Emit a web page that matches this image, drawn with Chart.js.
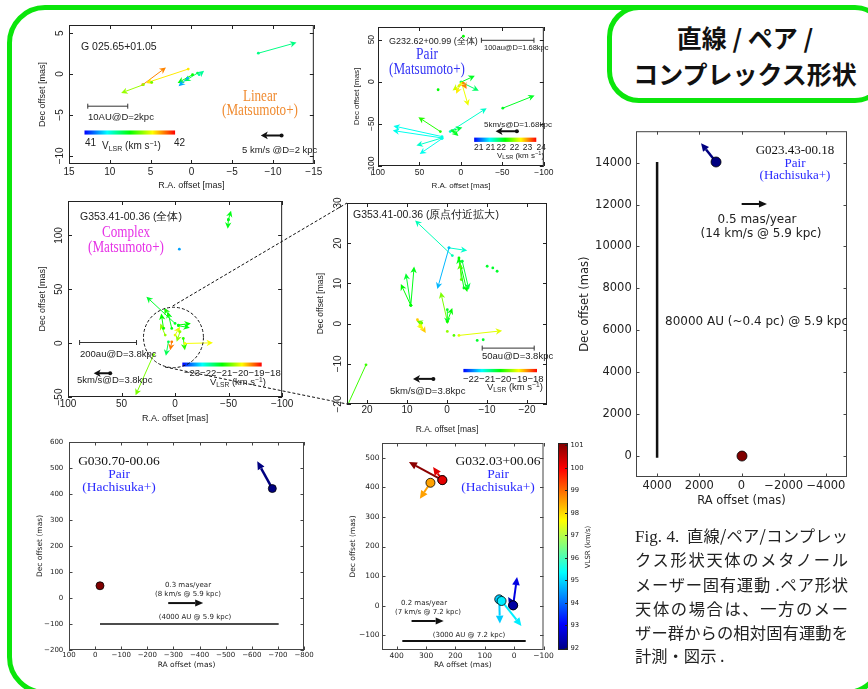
<!DOCTYPE html>
<html>
<head>
<meta charset="utf-8">
<script src="https://cdn.jsdelivr.net/npm/chart.js@4.4.1/dist/chart.umd.min.js"></script>
<style>
  body { margin: 0; background: #fff; overflow: hidden; }
  #page { position: relative; width: 868px; height: 689px; overflow: hidden; background: #fff; }
  canvas { position: absolute; }
  .frame { position: absolute; box-sizing: border-box; left: 7px; top: 5px; width: 877px; height: 690px;
           border: 5.5px solid #0be60b; border-radius: 38px; }
  .tbox { position: absolute; box-sizing: border-box; left: 607px; top: 5px; width: 280px; height: 98px;
          border: 5.5px solid #0be60b; border-radius: 32px; background: #fff; }
  .tline { position: absolute; left: 0; width: 868px; text-align: center; font-family: 'Noto Sans CJK JP', sans-serif;
           font-weight: 700; font-size: 25px; line-height: 1; color: #111; }
  .t { position: absolute; white-space: nowrap; line-height: 1; color: #222; }
  .c { transform: translate(-50%, -50%); }
  .cn { transform: translate(-50%, -50%) scaleX(0.82); }
  .l { transform: translateY(-50%); }
  .gp { font-family: 'Liberation Sans Narrow', 'Liberation Sans', sans-serif; }
  .mp { font-family: 'DejaVu Sans', sans-serif; }
  .sf { font-family: 'Liberation Serif', 'Times New Roman', serif; }
  .t sub { font-size: 70%; vertical-align: -0.25em; }
  .t sup { font-size: 70%; vertical-align: 0.45em; }
  .cap { position: absolute; left: 635px; width: 213px; height: 24px; line-height: 24px; font-size: 16.3px;
         font-family: 'Noto Sans CJK JP', sans-serif; color: #222; text-align: justify; text-align-last: justify; white-space: nowrap; }
</style>
</head>
<body>
<div id="page">
  <div class="frame"></div>
  <div class="tbox"></div>
  <div class="tline" style="left:377px;top:25px;width:736px;">直線 / ペア /</div>
  <div class="tline" style="left:377px;top:61px;width:736px;">コンプレックス形状</div>

  <canvas id="g025"></canvas>
  <canvas id="g232"></canvas>
  <canvas id="g353"></canvas>
  <canvas id="g353z"></canvas>
  <canvas id="g030"></canvas>
  <canvas id="g032"></canvas>
  <canvas id="g032cb"></canvas>
  <canvas id="g023"></canvas>

  <svg style="position:absolute;left:0;top:0" width="868" height="689">
    <line x1="172.7" y1="306" x2="347" y2="203" stroke="#111" stroke-width="1" stroke-dasharray="3,2"/>
    <line x1="165" y1="367" x2="347" y2="404" stroke="#111" stroke-width="1" stroke-dasharray="3,2"/>
  </svg>

  <!-- G025.65+01.05 -->
  <div class="t l gp" style="left:81px;top:46px;font-size:10.5px">G 025.65+01.05</div>
  <div class="t cn sf" style="left:260px;top:96px;font-size:16px;color:#f08c32">Linear</div>
  <div class="t cn sf" style="left:260px;top:110px;font-size:16px;color:#f08c32">(Matsumoto+)</div>
  <div class="t l gp" style="left:88px;top:117px;font-size:9.5px">10AU@D=2kpc</div>
  <div class="t l gp" style="left:85px;top:143px;font-size:10px">41</div>
  <div class="t l gp" style="left:102px;top:146px;font-size:10px">V<sub>LSR</sub> (km s<sup>−1</sup>)</div>
  <div class="t l gp" style="left:174px;top:143px;font-size:10px">42</div>
  <div class="t l gp" style="left:242px;top:150px;font-size:9.5px">5 km/s @D=2 kpc</div>

  <!-- G232.62+00.99 -->
  <div class="t l gp" style="left:389px;top:41px;font-size:9px">G232.62+00.99 (全体)</div>
  <div class="t cn sf" style="left:427px;top:54px;font-size:16.5px;color:#3535f5">Pair</div>
  <div class="t cn sf" style="left:427px;top:69px;font-size:16px;color:#3535f5">(Matsumoto+)</div>
  <div class="t l gp" style="left:484px;top:48px;font-size:7.5px">100au@D=1.68kpc</div>
  <div class="t l gp" style="left:484px;top:125px;font-size:8px">5km/s@D=1.68kpc</div>
  <div id="g232cbl"></div>
  <div class="t l gp" style="left:497px;top:156px;font-size:8px">V<sub>LSR</sub> (km s<sup>−1</sup>)</div>

  <!-- G353.41-00.36 -->
  <div class="t l gp" style="left:80px;top:216px;font-size:10.5px">G353.41-00.36 (全体)</div>
  <div class="t cn sf" style="left:126px;top:232px;font-size:16px;color:#e632e6">Complex</div>
  <div class="t cn sf" style="left:126px;top:247px;font-size:16px;color:#e632e6">(Matsumoto+)</div>
  <div class="t l gp" style="left:80px;top:354px;font-size:9.5px">200au@D=3.8kpc</div>
  <div class="t l gp" style="left:77px;top:380px;font-size:9.5px">5km/s@D=3.8kpc</div>
  <div class="t l gp" style="left:184px;top:373px;font-size:9.5px">−23−22−21−20−19−18</div>
  <div class="t l gp" style="left:210px;top:383px;font-size:9.5px">V<sub>LSR</sub> (km s<sup>−1</sup>)</div>

  <!-- G353.41-00.36 zoom -->
  <div class="t l gp" style="left:353px;top:214px;font-size:10.5px">G353.41-00.36 (原点付近拡大)</div>
  <div class="t l gp" style="left:482px;top:356px;font-size:9.5px">50au@D=3.8kpc</div>
  <div class="t l gp" style="left:390px;top:391px;font-size:9.5px">5km/s@D=3.8kpc</div>
  <div class="t l gp" style="left:463px;top:379px;font-size:9.5px">−22−21−20−19−18</div>
  <div class="t l gp" style="left:487px;top:388px;font-size:9.5px">V<sub>LSR</sub> (km s<sup>−1</sup>)</div>

  <!-- G030.70-00.06 -->
  <div class="t c sf" style="left:119px;top:461px;font-size:13.5px;color:#111">G030.70-00.06</div>
  <div class="t c sf" style="left:119px;top:474px;font-size:13.5px;color:#2a2aff">Pair</div>
  <div class="t c sf" style="left:119px;top:487px;font-size:13.5px;color:#2a2aff">(Hachisuka+)</div>
  <div class="t c mp" style="left:188px;top:585px;font-size:7px">0.3 mas/year</div>
  <div class="t c mp" style="left:188px;top:594px;font-size:7px">(8 km/s @ 5.9 kpc)</div>
  <div class="t c mp" style="left:195px;top:617px;font-size:7px">(4000 AU @ 5.9 kpc)</div>

  <!-- G032.03+00.06 -->
  <div class="t c sf" style="left:498px;top:461px;font-size:13.5px;color:#111">G032.03+00.06</div>
  <div class="t c sf" style="left:498px;top:474px;font-size:13.5px;color:#2a2aff">Pair</div>
  <div class="t c sf" style="left:498px;top:487px;font-size:13.5px;color:#2a2aff">(Hachisuka+)</div>
  <div class="t c mp" style="left:424px;top:603px;font-size:7px">0.2 mas/year</div>
  <div class="t c mp" style="left:428px;top:612px;font-size:7px">(7 km/s @ 7.2 kpc)</div>
  <div class="t c mp" style="left:469px;top:635px;font-size:7px">(3000 AU @ 7.2 kpc)</div>
  <div class="t mp" style="left:588px;top:547px;font-size:7px;transform:translate(-50%,-50%) rotate(-90deg)">VLSR (km/s)</div>

  <!-- G023.43-00.18 -->
  <div class="t c sf" style="left:795px;top:149px;font-size:13px;color:#111">G023.43-00.18</div>
  <div class="t c sf" style="left:795px;top:162px;font-size:13px;color:#2a2aff">Pair</div>
  <div class="t c sf" style="left:795px;top:174px;font-size:13px;color:#2a2aff">(Hachisuka+)</div>
  <div class="t c mp" style="left:757px;top:219px;font-size:12px">0.5 mas/year</div>
  <div class="t c mp" style="left:761px;top:233px;font-size:12px">(14 km/s @ 5.9 kpc)</div>
  <div style="position:absolute;left:636px;top:127px;width:211px;height:350px;overflow:hidden">
    <div class="t l mp" style="left:29px;top:194px;font-size:12px">80000 AU (~0.4 pc) @ 5.9 kpc</div>
  </div>

  <!-- caption -->
  <div class="cap" style="top:523px"><span style="font-family:'Liberation Serif',serif;font-size:17px">Fig. 4.</span>&nbsp; 直線/ペア/コンプレッ</div>
  <div class="cap" style="top:547px">クス形状天体のメタノール</div>
  <div class="cap" style="top:572px">メーザー固有運動 .ペア形状</div>
  <div class="cap" style="top:596px">天体の場合は、一方のメー</div>
  <div class="cap" style="top:620px">ザー群からの相対固有運動を</div>
  <div class="cap" style="top:643px;text-align-last:left">計測・図示 .</div>
</div>

<script>
// ---- data: each arrow is [RA, Dec, RA of tip, Dec of tip, VLSR]; dots are [RA, Dec, VLSR] ----

// G025.65+01.05 (linear)
const g025Arrows = [
    [-8.2, 2.55, -12.88, 3.85, 41.37],
    [5.96, -1.3, 3.12, 0.81, 41.87],
    [0.39, 0.61, 5.56, -1.09, 41.77],
    [5.88, -1.3, 8.61, -2.31, 41.65],
    [-0.14, -0.08, 1.69, -1.09, 41.5],
    [-0.75, 0.12, 0.88, -0.89, 41.42],
    [-0.95, -0.08, -1.56, 0.41, 41.35],
    [0.47, -0.49, 1.57, -1.5, 41.17]
];
const g025Dots = [[4.87, -1.01, 41.6]];
const g025Vlsr = [41, 42];
const g025XTicks = [15, 10, 5, 0, -5, -10, -15];
const g025YTicks = [5, 0, -5, -10];

// G232.62+00.99 (pair, whole field)
const g232Arrows = [
    [-0.2, -0.4, -16.8, 7.1, 22.4],
    [-0.2, -0.4, -21.6, -10.7, 22.2],
    [-1.0, -1.6, -8.9, -28.6, 23.2],
    [-3.0, -1.6, -6.9, -8.7, 23.6],
    [2.2, -4.8, 10.1, -10.3, 23.1],
    [1.0, -3.6, 5.7, -14.3, 23.3],
    [-50.5, -31.3, -88.9, -16.3, 22.4],
    [12.9, -59.1, -31.1, -31.3, 21.9],
    [10.9, -57.9, -1.8, -54.4, 22.3],
    [8.9, -59.1, 3.0, -64.3, 22.4],
    [22.8, -65.1, 81.4, -52.4, 21.8],
    [22.8, -66.7, 82.2, -57.9, 21.8],
    [24.8, -59.1, 51.3, -42.1, 22.6],
    [22.8, -66.7, 53.7, -75.8, 21.9],
    [22.8, -67.5, 49.7, -85.7, 21.8]
];
const g232Dots = [[-3.0, 54.0, 22.5], [27.5, -9.5, 22.5]];
const g232Vlsr = [21, 24];
const g232CbarLabels = ['21', '21', '22', '22', '23', '24'];
const g232XTicks = [100, 50, 0, -50, -100];
const g232YTicks = [50, 0, -50, -100];

// G353.41-00.36 (complex, whole field)
const g353Arrows = [
    [-49.8, 114.6, -52.3, 123.0, -20.6],
    [-49.8, 114.6, -49.2, 106.2, -20.6],
    [0.0, 18.3, 26.8, 43.2, -20.7],
    [6.2, 26.1, 10.2, 32.9, -20.4],
    [-3.1, 16.8, -14.8, 18.3, -20.5],
    [-3.1, 16.2, -13.8, 14.3, -20.6],
    [-9.2, -0.3, -35.4, 0.3, -19.3],
    [6.2, 1.2, 8.6, -11.8, -20.9],
    [3.1, 1.2, 4.6, -6.5, -18.6],
    [-7.7, 4.3, -9.2, -6.5, -20.3],
    [10.8, 13.7, 12.9, 27.6, -20.5],
    [9.2, 7.5, 13.8, 18.3, -19.8],
    [20.0, -10.6, 36.9, -48.4, -19.9],
    [0.0, 7.5, -4.6, 15.2, -19.4],
    [3.1, 13.7, 6.8, 29.2, -20.6],
    [-4.6, 10.6, -1.5, 1.2, -19.8]
];
const g353Dots = [[-4.0, 87.3, -22.2]];
const g353Vlsr = [-23, -18];
const g353XTicks = [100, 50, 0, -50, -100];
const g353YTicks = [100, 50, 0, -50];

// G353.41-00.36 (zoom on the origin)
const g353zArrows = [
    [-1.33, 16.92, 7.97, 25.65, -20.9],
    [-0.5, 18.84, -5.06, 18.17, -21.0],
    [-0.5, 18.84, 2.41, 8.61, -21.6],
    [9.05, 4.54, 10.29, 12.52, -20.2],
    [9.05, 4.54, 8.22, 14.18, -20.1],
    [9.05, 4.54, 11.54, 9.86, -20.0],
    [-4.23, 8.86, -2.82, 16.51, -20.1],
    [-2.99, 16.34, -5.06, 7.86, -20.0],
    [-3.82, 15.51, -5.48, 8.45, -20.3],
    [-3.57, 10.94, -3.24, 15.1, -19.6],
    [-0.08, 0.55, 1.58, 7.86, -19.4],
    [-0.08, 0.55, -1.33, 3.87, -20.0],
    [-0.08, 3.46, -0.08, -0.12, -20.2],
    [7.39, 0.96, 5.31, -2.36, -18.5],
    [6.31, 0.13, 7.64, 0.71, -19.5],
    [6.8, -0.45, 5.98, -1.53, -18.8],
    [-2.99, -2.94, -13.78, -1.78, -18.9],
    [20.25, -10.26, 25.2, -21.06, -19.7]
];
const g353zDots = [
    [-10.04, 14.26, -20.2], [-11.45, 13.85, -20.2], [-12.53, 13.02, -20.2],
    [-0.08, -1.94, -19.3], [-1.74, -2.94, -19.6], [-7.55, -4.19, -20.2], [-9.05, -4.02, -20.2]
];
const g353zVlsr = [-22.5, -17.5];
const g353zXTicks = [20, 10, 0, -10, -20];
const g353zYTicks = [30, 20, 10, 0, -10, -20];

// G030.70-00.06 (pair) - colour index only, no colour bar in the panel
const g030Arrows = [[-678.7, 421, -621, 525.8, 0]];
const g030Dots = [[-18.7, 47, 1]];
const g030Vlsr = [0, 1];
const g030XTicks = [100, 0, -100, -200, -300, -400, -500, -600, -700, -800];
const g030YTicks = [600, 500, 400, 300, 200, 100, 0, -100, -200];

// G032.03+00.06 (pair)
const g032Arrows = [
    [244.5, 424.5, 358.3, 485.4, 101.0],
    [244.5, 424.5, 276, 468.5, 100.2],
    [285, 415.5, 321, 361.5, 98.5],
    [50.7, 21.4, 48.5, -60.8, 94.9],
    [42.8, 15.8, -24.8, -68.7, 95.2],
    [3.4, 1.1, -10, 96.8, 92.8],
    [3.4, 1.1, 20.3, 29.3, 92.2]
];
const g032Dots = [];
const g032Vlsr = [91.9, 101.1];
const g032XTicks = [400, 300, 200, 100, 0, -100];
const g032YTicks = [500, 400, 300, 200, 100, 0, -100];
const g032CbTicks = [92, 93, 94, 95, 96, 97, 98, 99, 100, 101];

// G023.43-00.18 (pair)
const g023Arrows = [[1207, 14031, 1917, 14930, 0]];
const g023Dots = [[-23, 0, 1]];
const g023Vlsr = [0, 1];
const g023XTicks = [4000, 2000, 0, -2000, -4000];
const g023YTicks = [0, 2000, 4000, 6000, 8000, 10000, 12000, 14000];

// ---- look ----
const GP = "'Liberation Sans Narrow','Liberation Sans',sans-serif";
const MP = "'DejaVu Sans',sans-serif";

function fmt(v) { return v < 0 ? '\u2212' + Math.abs(v) : String(v); }
function clamp(t) { return Math.min(1, Math.max(0, t)); }
function rainbow(t) { return 'hsl(' + Math.round(240 * (1 - clamp(t))) + ',100%,50%)'; }
function jet(t) {
    t = clamp(t);
    const c = k => Math.round(255 * clamp(1.5 - Math.abs(4 * t - k)));
    return 'rgb(' + c(3) + ',' + c(2) + ',' + c(1) + ')';
}

// panel layout: box = canvas [left, top, width, height]; plot = [L, T, R, B] of the axes box (page px)
const specs = {
    g025: { box: [25, 15, 300, 180], plot: [69, 25, 316, 164], x: [-15, 15], y: [-11, 6], kind: 'gp',
            xt: g025XTicks, yt: g025YTicks, font: 10, tFont: 9, xTickPad: 2.7, xtPad: 3.6, ytPad: 12.6, rotY: 9,
            xTitle: 'R.A. offset [mas]', yTitle: 'Dec offset [mas]',
            arrows: g025Arrows, dots: g025Dots, vlsr: g025Vlsr,
            cbar: [13.1, 2.0, -6.9, -7.4], bar: [12.7, 7.8, -3.93], ref: [-11.05, -7.5, -8.5, -7.5] },
    g232: { box: [345, 15, 210, 180], plot: [378, 27, 547, 166], x: [-100, 100], y: [-100, 65], kind: 'gp',
            xt: g232XTicks, yt: g232YTicks, font: 8.5, tFont: 8, xTickPad: 1.6, xtPad: 4.9, ytPad: 6.9, rotY: 6.6,
            xTitle: 'R.A. offset [mas]', yTitle: 'Dec offset [mas]',
            arrows: g232Arrows, dots: g232Dots, vlsr: g232Vlsr,
            cbar: [-16, -90.9, -66.3, -71.4], bar: [-24.7, -88.1, 49.2], ref: [-67.5, -58.7, -41.8, -58.7] },
    g353: { box: [25, 195, 270, 235], plot: [68, 201, 285, 397], x: [-100, 100], y: [-50, 132], kind: 'gp',
            xt: g353XTicks, yt: g353YTicks, font: 10, tFont: 9, xTickPad: 1.6, xtPad: 5.6, ytPad: 12.3, rotY: 8.3,
            xTitle: 'R.A. offset [mas]', yTitle: 'Dec offset [mas]',
            arrows: g353Arrows, dots: g353Dots, vlsr: g353Vlsr,
            cbar: [-6.8, -80.9, -18.0, -21.7], bar: [89.2, 36.0, 0.6], ref: [60.6, -27.9, 76.0, -27.9],
            circle: [1.5, 5.3, 28] },
    g353z: { box: [305, 195, 250, 245], plot: [347, 203, 547, 404], x: [-25, 25], y: [-20, 30], kind: 'gp',
            xt: g353zXTicks, yt: g353zYTicks, font: 10, tFont: 8.5, xTickPad: 0, xtPad: 4.9, ytPad: 10.9, rotY: 9,
            xTitle: 'R.A. offset [mas]', yTitle: 'Dec offset [mas]',
            arrows: g353zArrows, dots: g353zDots, vlsr: g353zVlsr,
            cbar: [-4.1, -22.5, -11.27, -12.1], bar: [-8.8, -21.8, -6.1], ref: [3.4, -13.75, 8.5, -13.75] },
    g030: { box: [20, 430, 295, 245], plot: [69, 442, 304, 650], x: [-800, 100], y: [-200, 600], kind: 'mp',
            xt: g030XTicks, yt: g030YTicks, font: 7, tFont: 7.5, xTickPad: 1.1, xtPad: 5.2, ytPad: 15.5, yTickPad: 5.7,
            xTitle: 'RA offset (mas)', yTitle: 'Dec offset (mas)',
            arrows: g030Arrows, dots: g030Dots, vlsr: g030Vlsr, lw: 2.5, dotR: 4,
            ref: [-280, -19.5, -414, -19.5], lines: [[-18.7, -100, -703, -100, 1.5]] },
    g032: { box: [335, 430, 220, 245], plot: [382, 443, 544, 650], x: [-100, 450], y: [-150, 550], kind: 'mp',
            xt: g032XTicks, yt: g032YTicks, font: 7.5, tFont: 7.5, xTickPad: 1.2, xtPad: 5.5, ytPad: 13.2, yTickPad: 2.4,
            xTitle: 'RA offset (mas)', yTitle: 'Dec offset (mas)',
            arrows: g032Arrows, dots: g032Dots, vlsr: g032Vlsr, lw: 2, dotR: 4.5,
            ref: [349.3, -51.8, 240, -51.8], lines: [[380.8, -119.4, -39.4, -119.4, 2]] },
    g023: { box: [565, 120, 300, 390], plot: [636, 127, 847, 477], x: [-5000, 5000], y: [-1000, 15500], kind: 'mp',
            xt: g023XTicks, yt: g023YTicks, font: 11.5, tFont: 11.5, xTickPad: 2.4, xtPad: 2.4, ytPad: 13.1, yTickPad: 4.3,
            xTitle: 'RA offset (mas)', yTitle: 'Dec offset (mas)',
            arrows: g023Arrows, dots: g023Dots, vlsr: g023Vlsr, lw: 2.5, dotR: 5,
            ref: [-7.5, 12029, -1207, 12029], lines: [[4000, -80, 4000, 14030, 2.5]] }
};

function drawArrow(ctx, x0, y0, x1, y1, col, lw, hl, hw, notch) {
    const dx = x1 - x0, dy = y1 - y0, len = Math.hypot(dx, dy) || 1, ux = dx / len, uy = dy / len;
    const bx = x1 - ux * hl * (1 - notch), by = y1 - uy * hl * (1 - notch);
    ctx.strokeStyle = col; ctx.fillStyle = col; ctx.lineWidth = lw;
    ctx.beginPath(); ctx.moveTo(x0, y0); ctx.lineTo(bx, by); ctx.stroke();
    ctx.beginPath();
    ctx.moveTo(x1, y1);
    ctx.lineTo(x1 - ux * hl - uy * hw, y1 - uy * hl + ux * hw);
    ctx.lineTo(bx, by);
    ctx.lineTo(x1 - ux * hl + uy * hw, y1 - uy * hl - ux * hw);
    ctx.closePath(); ctx.fill();
}

const maserPlugin = {
    id: 'maser',
    beforeDatasetsDraw(chart) {
        const s = specs[chart.canvas.id];
        if (!s) return;
        const { ctx, chartArea: a, scales: { x, y } } = chart;
        const px = v => x.getPixelForValue(v), py = v => y.getPixelForValue(v);
        const gp = s.kind === 'gp';
        const cmap = v => (gp ? rainbow : jet)((v - s.vlsr[0]) / (s.vlsr[1] - s.vlsr[0]));
        ctx.save();
        ctx.beginPath(); ctx.rect(a.left, a.top, a.right - a.left, a.bottom - a.top); ctx.clip();
        ctx.lineCap = 'butt';
        s.arrows.forEach(r => {
            if (gp) drawArrow(ctx, px(r[0]), py(r[1]), px(r[2]), py(r[3]), cmap(r[4]), 1, 6.5, 3.2, 0.3);
            else drawArrow(ctx, px(r[0]), py(r[1]), px(r[2]), py(r[3]), cmap(r[4]), s.lw, 8, 3.8, 0);
        });
        // colour bar (gnuplot panels)
        if (s.cbar) {
            const [c0, c1, c2, c3] = s.cbar;
            const g = ctx.createLinearGradient(px(c0), 0, px(c1), 0);
            for (let i = 0; i <= 12; i++) g.addColorStop(i / 12, rainbow(i / 12));
            ctx.fillStyle = g;
            ctx.fillRect(px(c0), py(c2), px(c1) - px(c0), py(c3) - py(c2));
        }
        // scale bar
        if (s.bar) {
            const [b0, b1, by] = s.bar;
            ctx.strokeStyle = '#333'; ctx.lineWidth = 1;
            ctx.beginPath();
            ctx.moveTo(px(b0), py(by)); ctx.lineTo(px(b1), py(by));
            ctx.moveTo(px(b0), py(by) - 2.5); ctx.lineTo(px(b0), py(by) + 2.5);
            ctx.moveTo(px(b1), py(by) - 2.5); ctx.lineTo(px(b1), py(by) + 2.5);
            ctx.stroke();
        }
        (s.lines || []).forEach(l => {
            ctx.strokeStyle = '#111'; ctx.lineWidth = l[4];
            ctx.beginPath(); ctx.moveTo(px(l[0]), py(l[1])); ctx.lineTo(px(l[2]), py(l[3])); ctx.stroke();
        });
        // reference velocity arrow
        if (s.ref) {
            const [r0, r1, r2, r3] = s.ref;
            if (gp) {
                drawArrow(ctx, px(r0), py(r1), px(r2), py(r3), '#111', 2, 7, 3.8, 0.25);
                ctx.beginPath(); ctx.arc(px(r0), py(r1), 2, 0, Math.PI * 2); ctx.fill();
            } else {
                drawArrow(ctx, px(r0), py(r1), px(r2), py(r3), '#111', 2, 8, 3.5, 0);
            }
        }
        if (s.circle) {
            const [cx, cy, r] = s.circle;
            ctx.strokeStyle = '#111'; ctx.lineWidth = 1; ctx.setLineDash([3, 2]);
            ctx.beginPath();
            ctx.ellipse(px(cx), py(cy), Math.abs(px(cx + r) - px(cx)), Math.abs(py(cy + r) - py(cy)), 0, 0, Math.PI * 2);
            ctx.stroke(); ctx.setLineDash([]);
        }
        ctx.restore();
    },
    afterDraw(chart) {
        const s = specs[chart.canvas.id];
        if (!s) return;
        const { ctx, chartArea: a, scales: { x, y } } = chart;
        const gp = s.kind === 'gp';
        const tl = gp ? 4 : 3.5;
        ctx.save();
        ctx.strokeStyle = gp ? '#222' : '#444'; ctx.lineWidth = 1;
        ctx.strokeRect(a.left + 0.5, a.top + 0.5, a.right - a.left - 1, a.bottom - a.top - 1);
        ctx.beginPath();
        x.ticks.forEach(t => {
            const p = Math.round(x.getPixelForValue(t.value)) + 0.5;
            ctx.moveTo(p, a.bottom); ctx.lineTo(p, a.bottom - tl);
            ctx.moveTo(p, a.top); ctx.lineTo(p, a.top + tl);
        });
        y.ticks.forEach(t => {
            const p = Math.round(y.getPixelForValue(t.value)) + 0.5;
            ctx.moveTo(a.left, p); ctx.lineTo(a.left + tl, p);
            ctx.moveTo(a.right, p); ctx.lineTo(a.right - tl, p);
        });
        ctx.stroke();
        if (s.rotY) {
            ctx.fillStyle = '#222';
            ctx.font = s.font + 'px ' + GP;
            ctx.textAlign = 'center'; ctx.textBaseline = 'middle';
            y.ticks.forEach(t => {
                ctx.save();
                ctx.translate(a.left - s.rotY, y.getPixelForValue(t.value));
                ctx.rotate(-Math.PI / 2);
                ctx.fillText(fmt(t.value), 0, 0);
                ctx.restore();
            });
        }
        ctx.restore();
    }
};

function build(id) {
    const s = specs[id];
    const [cl, ct, cw, ch] = s.box, [L, T, R, B] = s.plot;
    const cv = document.getElementById(id);
    cv.width = cw; cv.height = ch;
    cv.style.left = cl + 'px'; cv.style.top = ct + 'px';
    const gp = s.kind === 'gp';
    const fam = gp ? GP : MP;
    const cmap = v => (gp ? rainbow : jet)((v - s.vlsr[0]) / (s.vlsr[1] - s.vlsr[0]));
    const pts = s.arrows.map(a => ({ x: a[0], y: a[1], v: a[4] }))
        .concat(s.dots.map(d => ({ x: d[0], y: d[1], v: d[2] })));
    new Chart(cv, {
        type: 'scatter',
        data: {
            datasets: [{
                data: pts,
                pointRadius: gp ? 1.4 : s.dotR,
                backgroundColor: pts.map(p => cmap(p.v)),
                borderColor: gp ? 'rgba(0,0,0,0)' : '#000',
                borderWidth: gp ? 0 : 0.8
            }]
        },
        options: {
            responsive: false,
            animation: false,
            events: [],
            layout: { autoPadding: false, padding: { left: 0, top: T - ct, right: cl + cw - R, bottom: 0 } },
            plugins: { legend: { display: false }, tooltip: { enabled: false } },
            scales: {
                x: {
                    type: 'linear', reverse: true, min: s.x[0], max: s.x[1],
                    grid: { display: false, drawTicks: false }, border: { display: false },
                    afterBuildTicks: sc => { sc.ticks = s.xt.map(v => ({ value: v })); },
                    ticks: { autoSkip: false, maxRotation: 0, font: { family: fam, size: s.font }, color: '#222',
                             padding: s.xTickPad, callback: fmt },
                    title: { display: true, text: s.xTitle, color: '#222', font: { family: fam, size: s.tFont },
                             padding: { top: 0, bottom: s.xtPad } },
                    afterFit: sc => { sc.height = ct + ch - B; }
                },
                y: {
                    type: 'linear', min: s.y[0], max: s.y[1],
                    grid: { display: false, drawTicks: false }, border: { display: false },
                    afterBuildTicks: sc => { sc.ticks = s.yt.map(v => ({ value: v })); },
                    ticks: { display: !s.rotY, autoSkip: false, font: { family: fam, size: s.font }, color: '#222',
                             padding: s.yTickPad || 0, callback: fmt },
                    title: { display: true, text: s.yTitle, color: '#222', font: { family: fam, size: s.tFont },
                             padding: { top: s.ytPad, bottom: 0 } },
                    afterFit: sc => { sc.width = L - cl; }
                }
            }
        },
        plugins: [maserPlugin]
    });
}

// colour bar of G032.03+00.06 drawn on its own VLSR scale
const cbPlugin = {
    id: 'cb',
    beforeDraw(chart) {
        const { ctx, chartArea: a, scales: { y } } = chart;
        const y0 = y.getPixelForValue(g032Vlsr[0]), y1 = y.getPixelForValue(g032Vlsr[1]);
        const g = ctx.createLinearGradient(0, y0, 0, y1);
        for (let i = 0; i <= 16; i++) g.addColorStop(i / 16, jet(i / 16));
        ctx.fillStyle = g;
        ctx.fillRect(a.left, a.top, a.right - a.left, a.bottom - a.top);
    },
    afterDraw(chart) {
        const { ctx, chartArea: a, scales: { y } } = chart;
        ctx.save();
        ctx.strokeStyle = '#222'; ctx.lineWidth = 1;
        ctx.strokeRect(a.left + 0.5, a.top + 0.5, a.right - a.left - 1, a.bottom - a.top - 1);
        ctx.beginPath();
        y.ticks.forEach(t => {
            const p = Math.round(y.getPixelForValue(t.value)) + 0.5;
            ctx.moveTo(a.right, p); ctx.lineTo(a.right - 3, p);
        });
        ctx.stroke();
        ctx.restore();
    }
};

function buildColourBar() {
    const cv = document.getElementById('g032cb');
    cv.width = 50; cv.height = 245;
    cv.style.left = '550px'; cv.style.top = '430px';
    new Chart(cv, {
        type: 'scatter',
        data: { datasets: [{ data: [] }] },
        options: {
            responsive: false, animation: false, events: [],
            layout: { autoPadding: false, padding: { left: 8, top: 13, right: 0, bottom: 25 } },
            plugins: { legend: { display: false }, tooltip: { enabled: false } },
            scales: {
                x: { display: false, min: 0, max: 1 },
                y: {
                    position: 'right', min: g032Vlsr[0], max: g032Vlsr[1],
                    grid: { display: false, drawTicks: false }, border: { display: false },
                    afterBuildTicks: sc => { sc.ticks = g032CbTicks.map(v => ({ value: v })); },
                    ticks: { autoSkip: false, font: { family: MP, size: 6.8 }, color: '#222', padding: 2.5 },
                    afterFit: sc => { sc.width = 32; }
                }
            }
        },
        plugins: [cbPlugin]
    });
}

// G232 colour-bar labels
const cbl = document.getElementById('g232cbl');
const cblX = [478.7, 490.5, 501.2, 514.5, 527.5, 541.3];
g232CbarLabels.forEach((txt, i) => {
    const d = document.createElement('div');
    d.className = 't c gp';
    d.style.cssText = 'left:' + cblX[i] + 'px;top:147px;font-size:8.5px';
    d.textContent = txt;
    cbl.appendChild(d);
});

Object.keys(specs).forEach(build);
buildColourBar();
</script>
</body>
</html>
